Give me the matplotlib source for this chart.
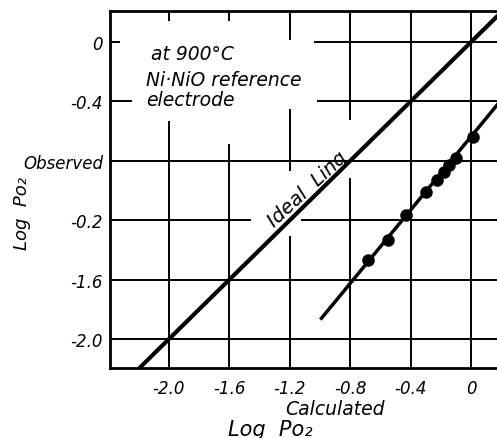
import matplotlib
matplotlib.use('Agg')
import matplotlib.pyplot as plt

# observed vs calculated log pO2
calc_logp = [-0.68, -0.55, -0.43, -0.296, -0.223, -0.177, -0.146, -0.10, 0.015]
obs_logp = [-1.47, -1.333, -1.165, -1.013, -0.927, -0.874, -0.83, -0.78, -0.64]

# drawn fit line through the points
fit_x = [-0.99, 0.20]
fit_y = [-1.86, -0.39]

# ideal line  (observed == calculated)
ideal_x = [-2.4, 0.3]
ideal_y = [-2.4, 0.3]

xticks = [-2.0, -1.6, -1.2, -0.8, -0.4, 0.0]
xtick_labels = ['-2.0', '-1.6', '-1.2', '-0.8', '-0.4', '0']
yticks = [0.0, -0.4, -0.8, -1.2, -1.6, -2.0]
ytick_labels = ['0', '-0.4', 'Observed', '-0.2', '-1.6', '-2.0']

W, H = 497, 439
fig = plt.figure(figsize=(W / 100, H / 100), dpi=100)
ax = fig.add_axes([110 / W, 1 - 369 / H, 1 - 110 / W, (369 - 12) / H])
ax.set_xlim(-2.39, 0.172)
ax.set_ylim(-2.195, 0.209)

# hand drawn grid: broken around the text
top, bot, lft, rgt = 0.209, -2.195, -2.39, 0.172
vsegs = [(-2.0, bot, -0.54), (-2.0, 0.21, 0.15),
         (-1.6, bot, -0.69), (-1.6, 0.21, 0.15),
         (-1.2, bot, -1.31), (-1.2, -0.46, -0.86), (-1.2, 0.21, 0.02),
         (-0.8, bot, -0.92), (-0.8, -0.52, top),
         (-0.4, bot, top), (0.0, bot, top)]
hsegs = [(0.0, -1.03, rgt), (0.0, lft, -2.33),
         (-0.4, -1.01, rgt), (-0.4, lft, -2.25),
         (-0.8, lft, rgt),
         (-1.2, lft, -1.46), (-1.2, -1.12, rgt),
         (-1.6, lft, rgt), (-2.0, lft, rgt)]
for x, y0, y1 in vsegs:
    ax.plot([x, x], [y0, y1], color='black', lw=1.4, zorder=1)
for y, x0, x1 in hsegs:
    ax.plot([x0, x1], [y, y], color='black', lw=1.4, zorder=1)

ax.plot(ideal_x, ideal_y, color='black', lw=3, zorder=2)
ax.plot(fit_x, fit_y, color='black', lw=2.5, zorder=2)
ax.plot(calc_logp, obs_logp, 'o', color='black', ms=8, zorder=3)

for s in ['left', 'bottom', 'top']:
    ax.spines[s].set_linewidth(2)
ax.spines['right'].set_visible(False)

font = dict(fontstyle='italic', fontsize=12)
big = dict(fontstyle='italic', fontsize=13.5)
ax.set_xticks(xticks)
ax.set_xticklabels(xtick_labels, **font)
ax.set_yticks(yticks)
ax.set_yticklabels(ytick_labels, **font)
ax.tick_params(axis='x', length=0, pad=8)
ax.tick_params(axis='y', length=0, pad=5)

ax.text(-2.12, -0.08, 'at 900°C', ha='left', va='center', **big)
ax.text(-2.15, -0.25, 'Ni·NiO reference', ha='left', va='center', **big)
ax.text(-2.15, -0.385, 'electrode', ha='left', va='center', **big)
ax.text(-1.086, -0.99, 'Ideal  Ling', rotation=43, rotation_mode='anchor',
        ha='center', va='center', fontstyle='italic', fontsize=14)

fig.text(335 / W, 1 - 410 / H, 'Calculated', ha='center', va='center', **big)
fig.text(270 / W, 1 - 430 / H, 'Log  Po₂', ha='center', va='center',
         fontstyle='italic', fontsize=15)
fig.text(22 / W, 1 - 213 / H, 'Log  Po₂', ha='center', va='center',
         rotation=90, fontstyle='italic', fontsize=13)

plt.savefig('out.png', dpi=100)
